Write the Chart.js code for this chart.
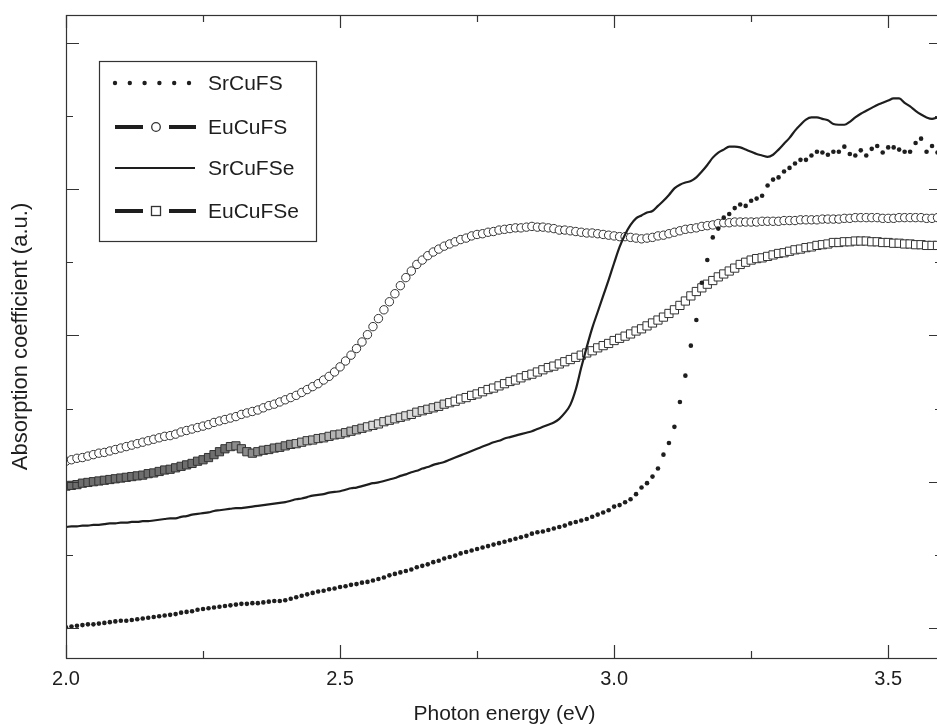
<!DOCTYPE html>
<html>
<head>
<meta charset="utf-8">
<script src="https://cdn.jsdelivr.net/npm/chart.js@4.4.1/dist/chart.umd.min.js"></script>
<style>
  body { margin: 0; background: #fff; overflow: hidden; }
  canvas { display: block; }
</style>
</head>
<body>
<!-- el original esta recortado por la derecha: el marco llega a 3.6 eV, fuera de la ventana -->
<canvas id="absorcionChart" width="943" height="725"></canvas>
<script>
// Energia del foton (eV)
var energia = [
  2.00,2.01,2.02,2.03,2.04,2.05,2.06,2.07,2.08,2.09,
  2.10,2.11,2.12,2.13,2.14,2.15,2.16,2.17,2.18,2.19,
  2.20,2.21,2.22,2.23,2.24,2.25,2.26,2.27,2.28,2.29,
  2.30,2.31,2.32,2.33,2.34,2.35,2.36,2.37,2.38,2.39,
  2.40,2.41,2.42,2.43,2.44,2.45,2.46,2.47,2.48,2.49,
  2.50,2.51,2.52,2.53,2.54,2.55,2.56,2.57,2.58,2.59,
  2.60,2.61,2.62,2.63,2.64,2.65,2.66,2.67,2.68,2.69,
  2.70,2.71,2.72,2.73,2.74,2.75,2.76,2.77,2.78,2.79,
  2.80,2.81,2.82,2.83,2.84,2.85,2.86,2.87,2.88,2.89,
  2.90,2.91,2.92,2.93,2.94,2.95,2.96,2.97,2.98,2.99,
  3.00,3.01,3.02,3.03,3.04,3.05,3.06,3.07,3.08,3.09,
  3.10,3.11,3.12,3.13,3.14,3.15,3.16,3.17,3.18,3.19,
  3.20,3.21,3.22,3.23,3.24,3.25,3.26,3.27,3.28,3.29,
  3.30,3.31,3.32,3.33,3.34,3.35,3.36,3.37,3.38,3.39,
  3.40,3.41,3.42,3.43,3.44,3.45,3.46,3.47,3.48,3.49,
  3.50,3.51,3.52,3.53,3.54,3.55,3.56,3.57,3.58,3.59
];

var srCuFS = [
  0.01,0.02,0.03,0.04,0.05,0.05,0.06,0.07,0.08,0.09,
  0.10,0.10,0.11,0.12,0.13,0.14,0.15,0.16,0.17,0.18,
  0.19,0.21,0.22,0.23,0.25,0.26,0.27,0.28,0.29,0.30,
  0.31,0.32,0.33,0.33,0.34,0.34,0.35,0.36,0.37,0.37,
  0.38,0.40,0.42,0.44,0.46,0.48,0.50,0.51,0.53,0.54,
  0.56,0.57,0.59,0.60,0.62,0.63,0.65,0.67,0.69,0.72,
  0.74,0.76,0.78,0.80,0.83,0.85,0.87,0.90,0.92,0.95,
  0.97,0.99,1.02,1.04,1.06,1.08,1.10,1.12,1.14,1.16,
  1.18,1.20,1.22,1.24,1.26,1.29,1.31,1.32,1.34,1.36,
  1.38,1.40,1.43,1.45,1.47,1.49,1.52,1.55,1.58,1.61,
  1.66,1.68,1.72,1.76,1.83,1.92,1.98,2.07,2.18,2.37,
  2.53,2.75,3.09,3.45,3.86,4.21,4.72,5.03,5.34,5.46,
  5.61,5.66,5.74,5.79,5.77,5.84,5.87,5.91,6.05,6.13,
  6.16,6.24,6.29,6.35,6.40,6.40,6.46,6.51,6.50,6.47,
  6.51,6.51,6.58,6.48,6.46,6.53,6.46,6.55,6.59,6.50,
  6.57,6.57,6.54,6.51,6.51,6.63,6.69,6.51,6.59,6.50
];

var euCuFS = [
  2.28,2.30,2.32,2.33,2.35,2.37,2.39,2.40,2.42,2.44,
  2.46,2.48,2.50,2.52,2.54,2.56,2.58,2.60,2.62,2.63,
  2.65,2.68,2.70,2.72,2.74,2.76,2.78,2.81,2.83,2.85,
  2.87,2.89,2.92,2.94,2.96,2.98,3.01,3.04,3.06,3.09,
  3.12,3.15,3.18,3.22,3.26,3.30,3.34,3.39,3.44,3.50,
  3.57,3.65,3.73,3.82,3.91,4.01,4.12,4.23,4.35,4.46,
  4.57,4.68,4.79,4.88,4.97,5.03,5.09,5.14,5.18,5.22,
  5.25,5.28,5.31,5.33,5.36,5.38,5.39,5.41,5.42,5.44,
  5.45,5.46,5.47,5.47,5.48,5.49,5.48,5.48,5.47,5.46,
  5.44,5.44,5.43,5.42,5.41,5.40,5.40,5.39,5.38,5.37,
  5.36,5.35,5.35,5.34,5.33,5.32,5.33,5.34,5.36,5.37,
  5.39,5.41,5.43,5.45,5.46,5.47,5.49,5.50,5.51,5.53,
  5.54,5.54,5.55,5.55,5.55,5.55,5.55,5.56,5.56,5.56,
  5.56,5.57,5.57,5.57,5.58,5.58,5.58,5.58,5.59,5.59,
  5.59,5.59,5.60,5.60,5.61,5.61,5.61,5.61,5.61,5.60,
  5.60,5.60,5.61,5.61,5.61,5.61,5.61,5.60,5.60,5.61
];

var srCuFSe = [
  1.38,1.39,1.39,1.40,1.40,1.41,1.41,1.42,1.43,1.43,
  1.44,1.44,1.45,1.45,1.46,1.46,1.47,1.48,1.49,1.50,
  1.50,1.52,1.53,1.55,1.56,1.57,1.58,1.60,1.61,1.62,
  1.63,1.64,1.64,1.65,1.66,1.67,1.68,1.69,1.70,1.71,
  1.72,1.74,1.76,1.77,1.79,1.81,1.82,1.83,1.85,1.86,
  1.87,1.89,1.91,1.92,1.94,1.96,1.98,1.99,2.01,2.03,
  2.05,2.08,2.10,2.13,2.15,2.18,2.20,2.23,2.25,2.27,
  2.30,2.33,2.36,2.39,2.42,2.45,2.48,2.51,2.54,2.56,
  2.59,2.61,2.63,2.65,2.67,2.69,2.72,2.75,2.78,2.81,
  2.86,2.94,3.05,3.26,3.56,3.84,4.10,4.32,4.54,4.76,
  4.99,5.21,5.38,5.51,5.60,5.64,5.68,5.70,5.77,5.84,
  5.92,6.01,6.06,6.09,6.11,6.16,6.24,6.33,6.43,6.50,
  6.54,6.58,6.58,6.57,6.54,6.51,6.48,6.46,6.44,6.47,
  6.54,6.62,6.70,6.80,6.88,6.95,6.98,6.98,6.96,6.94,
  6.89,6.88,6.88,6.92,6.98,7.03,7.07,7.11,7.15,7.18,
  7.21,7.24,7.24,7.18,7.13,7.07,7.02,6.98,6.96,6.98
];

var euCuFSe = [
  1.94,1.95,1.96,1.98,1.99,2.00,2.01,2.02,2.03,2.04,
  2.05,2.06,2.07,2.08,2.09,2.11,2.12,2.14,2.16,2.17,
  2.19,2.21,2.23,2.25,2.28,2.30,2.33,2.37,2.41,2.45,
  2.48,2.49,2.45,2.41,2.39,2.41,2.43,2.44,2.46,2.47,
  2.49,2.51,2.52,2.54,2.56,2.57,2.59,2.60,2.62,2.64,
  2.65,2.67,2.69,2.71,2.73,2.75,2.77,2.79,2.82,2.84,
  2.86,2.88,2.90,2.92,2.95,2.97,2.99,3.01,3.03,3.06,
  3.08,3.10,3.13,3.15,3.18,3.20,3.23,3.26,3.28,3.31,
  3.34,3.37,3.39,3.42,3.45,3.47,3.50,3.53,3.56,3.58,
  3.61,3.64,3.67,3.70,3.73,3.76,3.79,3.83,3.86,3.89,
  3.93,3.96,3.99,4.02,4.06,4.09,4.13,4.17,4.21,4.25,
  4.30,4.35,4.41,4.47,4.54,4.60,4.65,4.70,4.75,4.80,
  4.84,4.88,4.92,4.97,5.00,5.03,5.05,5.06,5.08,5.10,
  5.12,5.13,5.15,5.17,5.18,5.20,5.21,5.23,5.24,5.25,
  5.27,5.27,5.28,5.28,5.29,5.29,5.29,5.28,5.28,5.27,
  5.27,5.26,5.26,5.25,5.25,5.24,5.24,5.23,5.23,5.23
];

var etiquetas = ['SrCuFS', 'EuCuFS', 'SrCuFSe', 'EuCuFSe'];
var xMayores = [2.0, 2.5, 3.0, 3.5];   // con etiqueta
var xMenores = [2.25, 2.75, 3.25];
var yMayores = [0, 2, 4, 6, 8];
var yMenores = [1, 3, 5, 7];

var FUENTE = 'Liberation Sans, Arial, Helvetica, sans-serif';
var TINTA = '#1e1e1e';
Chart.defaults.font.family = FUENTE;

function puntos(valores) {
    return energia.map(function (e, i) { return { x: e, y: valores[i] }; });
}

// en el original los cuadrados se apilan tanto a baja energia que se ven grises
function rellenoCuadro(c) {
    var e = c.raw ? c.raw.x : 3;
    if (e < 2.30) return '#6e6e6e';
    if (e < 2.42) return '#8c8c8c';
    if (e < 2.55) return '#b4b4b4';
    if (e < 2.70) return '#dcdcdc';
    return '#fff';
}

// marco con marcas hacia adentro en los cuatro lados
var marcoPlugin = {
    id: 'marco',
    afterDatasetsDraw: function (chart) {
        var ctx = chart.ctx, a = chart.chartArea;
        var xs = chart.scales.x, ys = chart.scales.y;
        ctx.save();
        ctx.strokeStyle = '#333';
        ctx.lineWidth = 1.2;
        ctx.strokeRect(a.left + 0.5, a.top + 0.5, a.right - a.left - 1.5, a.bottom - a.top);
        ctx.beginPath();
        function marcaX(v, len) {
            var px = Math.round(xs.getPixelForValue(v)) + 0.5;
            ctx.moveTo(px, a.bottom); ctx.lineTo(px, a.bottom - len);
            ctx.moveTo(px, a.top); ctx.lineTo(px, a.top + len);
        }
        function marcaY(v, len) {
            var py = Math.round(ys.getPixelForValue(v)) + 0.5;
            ctx.moveTo(a.left, py); ctx.lineTo(a.left + len, py);
            ctx.moveTo(a.right - 1, py); ctx.lineTo(a.right - 1 - len, py);
        }
        xMayores.forEach(function (v) { marcaX(v, 13); });
        xMenores.forEach(function (v) { marcaX(v, 7); });
        yMayores.forEach(function (v) { marcaY(v, 13); });
        yMenores.forEach(function (v) { marcaY(v, 7); });
        ctx.stroke();
        ctx.restore();
    },
    afterDraw: function (chart) {
        // leyenda dibujada a mano
        var ctx = chart.ctx;
        var caja = { x: 99.5, y: 61.5, w: 217, h: 180 };
        var filas = [83, 127, 168, 211];
        ctx.save();
        ctx.fillStyle = '#fff';
        ctx.fillRect(caja.x, caja.y, caja.w, caja.h);
        ctx.strokeStyle = '#333';
        ctx.lineWidth = 1.2;
        ctx.strokeRect(caja.x, caja.y, caja.w, caja.h);

        ctx.fillStyle = TINTA;
        for (var i = 0; i < 6; i++) {
            ctx.beginPath();
            ctx.arc(115 + i * 14.8, filas[0], 2.2, 0, Math.PI * 2);
            ctx.fill();
        }
        function trazoGrueso(y) {
            ctx.strokeStyle = TINTA;
            ctx.lineWidth = 3.8;
            ctx.beginPath();
            ctx.moveTo(115, y); ctx.lineTo(143, y);
            ctx.moveTo(169, y); ctx.lineTo(196, y);
            ctx.stroke();
        }
        trazoGrueso(filas[1]);
        ctx.lineWidth = 1.3;
        ctx.strokeStyle = '#333';
        ctx.fillStyle = '#fff';
        ctx.beginPath();
        ctx.arc(156, filas[1], 4.3, 0, Math.PI * 2);
        ctx.fill(); ctx.stroke();

        ctx.strokeStyle = TINTA;
        ctx.lineWidth = 2;
        ctx.beginPath();
        ctx.moveTo(115, filas[2]); ctx.lineTo(195, filas[2]);
        ctx.stroke();

        trazoGrueso(filas[3]);
        ctx.lineWidth = 1.3;
        ctx.strokeStyle = '#333';
        ctx.fillStyle = '#fff';
        ctx.fillRect(151.5, filas[3] - 4.5, 9, 9);
        ctx.strokeRect(151.5, filas[3] - 4.5, 9, 9);

        ctx.fillStyle = TINTA;
        ctx.font = '21px ' + FUENTE;
        ctx.textBaseline = 'middle';
        ctx.textAlign = 'left';
        for (var j = 0; j < etiquetas.length; j++) {
            ctx.fillText(chart.data.datasets[j].label, 208, filas[j] + 1);
        }
        ctx.restore();
    }
};

var ctx = document.getElementById('absorcionChart');
new Chart(ctx, {
    type: 'scatter',
    data: {
        datasets: [{
            label: etiquetas[0],
            data: puntos(srCuFS),
            showLine: false,
            pointRadius: 2.3,
            pointBorderWidth: 0,
            pointBackgroundColor: TINTA,
            order: 1
        }, {
            label: etiquetas[1],
            data: puntos(euCuFS),
            showLine: false,
            pointStyle: 'circle',
            pointRadius: 4.2,
            pointBorderWidth: 1,
            pointBorderColor: '#333',
            pointBackgroundColor: '#fff',
            order: 2
        }, {
            label: etiquetas[2],
            data: puntos(srCuFSe),
            showLine: true,
            borderColor: TINTA,
            borderWidth: 2.2,
            pointRadius: 0,
            cubicInterpolationMode: 'monotone',
            order: 0
        }, {
            label: etiquetas[3],
            data: puntos(euCuFSe),
            showLine: false,
            pointStyle: 'rect',
            pointRadius: 5.8,
            pointBorderWidth: 1,
            pointBorderColor: '#333',
            pointBackgroundColor: rellenoCuadro,
            order: 3
        }]
    },
    options: {
        responsive: false,
        animation: false,
        layout: { autoPadding: false, padding: { top: 15, right: 0, left: 0, bottom: 0 } },
        plugins: {
            legend: { display: false },
            tooltip: { enabled: false }
        },
        scales: {
            x: {
                type: 'linear',
                min: 2.0,
                max: 3.6,
                afterBuildTicks: function (scale) {
                    scale.ticks = xMayores.map(function (v) { return { value: v }; });
                },
                afterFit: function (scale) {
                    scale.paddingLeft = 0;
                    scale.paddingRight = 0;
                },
                grid: { display: false, drawTicks: false },
                border: { display: false },
                ticks: {
                    autoSkip: false,
                    maxRotation: 0,
                    padding: 3,
                    color: TINTA,
                    font: { size: 20, lineHeight: 1.89 },
                    callback: function (v) { return v.toFixed(1); }
                },
                title: {
                    display: true,
                    text: 'Photon energy (eV)',
                    color: TINTA,
                    font: { size: 21 },
                    padding: { top: 0, bottom: -2 }
                }
            },
            y: {
                min: -0.41,
                max: 8.38,
                grid: { display: false, drawTicks: false },
                border: { display: false },
                ticks: { display: false },
                title: {
                    display: true,
                    text: 'Absorption coefficient (a.u.)',
                    color: TINTA,
                    font: { size: 22 },
                    padding: { top: 8, bottom: 31.6 }
                }
            }
        }
    },
    plugins: [marcoPlugin]
});
</script>
</body>
</html>
